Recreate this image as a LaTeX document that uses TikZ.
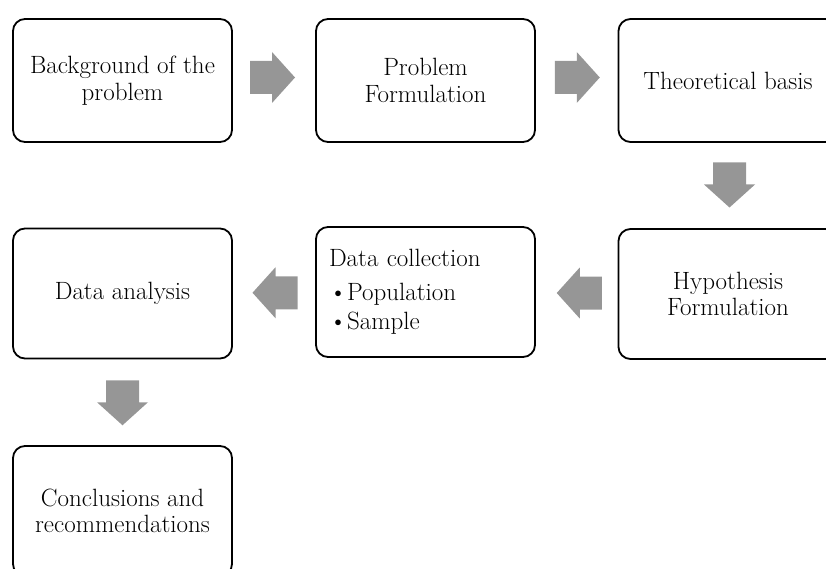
\documentclass[tikz,border=0pt]{standalone}
\usepackage{tikz}
\usetikzlibrary{calc}
\definecolor{arrowgrey}{RGB}{150,150,150}

\begin{document}
\begin{tikzpicture}[x=1pt,y=-1pt]
	% `stage' is used for the rounded boxes of the flow.
	% `fatarrow' is the grey block arrow between two stages.
	\tikzstyle{stage} = [draw,line width=1.8pt,rounded corners=12pt,minimum width=219pt,minimum height=123pt,inner sep=0pt,align=center,font=\fontsize{25}{26.5}\selectfont]
	\tikzstyle{tallstage} = [stage,minimum height=130pt]
	\tikzset{fatarrow/.pic={\fill[arrowgrey] (-22,-16.5) -- (0,-16.5) -- (0,-25.5) -- (23,0) -- (0,25.5) -- (0,16.5) -- (-22,16.5) -- cycle;}}
	%
	\clip (0,0) rectangle (826,569);
	% First row.
	\node[stage] (bg) at (122.5,80.5) {Background of the\\problem};
	\node[stage] (pf) at (425.5,80.5) {Problem\\Formulation};
	\node[stage] (tb) at (728,80.5) {Theoretical basis};
	% Second row.
	\node[tallstage] (hf) at (728,294) {Hypothesis\\Formulation};
	\node[tallstage,text width=193pt,align=left] (dc) at (425.5,292) {Data collection\\[7pt]\textbullet Population\\[3pt]\textbullet Sample};
	\node[tallstage] (da) at (122.5,293.5) {Data analysis};
	% Third row.
	\node[tallstage] (cr) at (122.5,511) {Conclusions and\\recommendations};
	% Draw block arrows.
	\pic at ($(bg.east)!0.5!(pf.west)+(-2,-3)$) {fatarrow};
	\pic at ($(pf.east)!0.5!(tb.west)+(0,-3)$) {fatarrow};
	\pic[rotate=-90] at ($(tb.south)!0.5!(hf.north)+(1.5,-1)$) {fatarrow};
	\pic[rotate=180] at ($(hf.west)!0.5!(dc.east)+(3,0)$) {fatarrow};
	\pic[rotate=180] at ($(dc.west)!0.5!(da.east)+(1.5,0)$) {fatarrow};
	\pic[rotate=-90] at ($(da.south)!0.5!(cr.north)$) {fatarrow};
%
\end{tikzpicture}
\end{document}
